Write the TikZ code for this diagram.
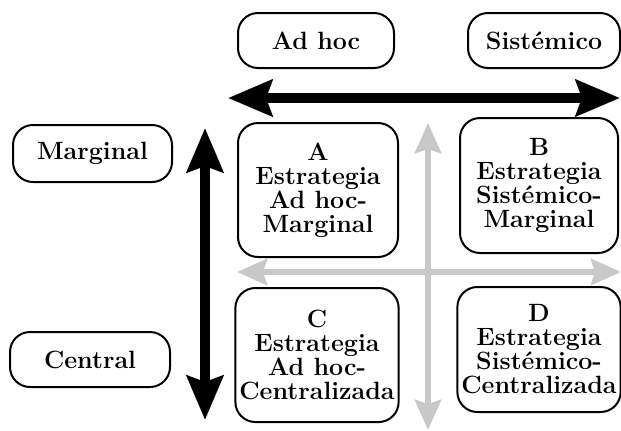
\documentclass[tikz,border=0pt]{standalone}
\usetikzlibrary{arrows.meta, positioning}

\begin{document}
\begin{tikzpicture}[
    x=0.5pt, y=-0.5pt,
    block/.style={rectangle, rounded corners=10pt, draw, line width=1pt, align=center, inner xsep=2pt,
                  font=\bfseries\fontsize{12.5}{12}\selectfont},
    axis/.style={<->, >={Stealth[length=22pt, width=18pt, inset=3pt]}, line width=5pt},
    grayaxis/.style={<->, >={Stealth[length=15pt, width=13pt, inset=2pt]}, line width=3pt, draw=axisgray}
]
\definecolor{axisgray}{RGB}{200,200,200}

\useasboundingbox (0,0) rectangle (621,430);

\coordinate (top_left) at (228,98);
\coordinate (top_right) at (620,98);
\coordinate (side_top) at (205,128);
\coordinate (side_bottom) at (205,420);
\coordinate (mid_left) at (237,272);
\coordinate (mid_right) at (621,272);
\coordinate (mid_top) at (428,123);
\coordinate (mid_bottom) at (428,430);


\draw[grayaxis] (mid_left) -- (mid_right);
\draw[grayaxis] (mid_top) -- (mid_bottom);


\node[block, minimum width=78pt, minimum height=27.5pt] (adhoc_block) at (316,40.5) {Ad hoc};
\node[block, minimum width=76pt, minimum height=27.5pt] (sistemico_block) at (544,40.5) {Sistémico};
\node[block, minimum width=79.5pt, minimum height=28.5pt] (marginal_block) at (92.5,153.5) {Marginal};
\node[block, minimum width=80pt, minimum height=27.5pt] (central_block) at (90,359.5) {Central};


\node[block, minimum width=80pt, minimum height=67pt] (a_block) at (318,190) {A\\Estrategia\\Ad hoc-\\Marginal};
\node[block, minimum width=79pt, minimum height=67.5pt] (b_block) at (539,185.5) {B\\Estrategia\\Sistémico-\\Marginal};
\node[block, minimum width=80pt, minimum height=67pt] (c_block) at (317,355) {C\\Estrategia\\Ad hoc-\\Centralizada};
\node[block, minimum width=79pt, minimum height=62.5pt] (d_block) at (539,349.5) {D\\Estrategia\\Sistémico-\\Centralizada};


\draw[axis] (top_left) -- (top_right);
\draw[axis] (side_top) -- (side_bottom);

\end{tikzpicture}
\end{document}
